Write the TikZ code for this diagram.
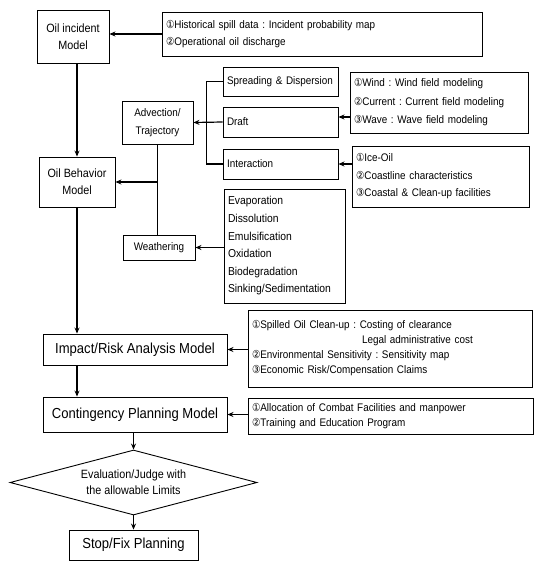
\documentclass[tikz,border=0pt]{standalone}
\usepackage{fontspec}
\setmainfont{Liberation Sans}[FakeStretch=0.9]
\newfontfamily\symf{DejaVu Sans}[FakeStretch=0.85]
\usetikzlibrary{shapes.geometric,arrows.meta,calc}
\newcommand\nA{{\symf ①}}
\newcommand\nB{{\symf ②}}
\newcommand\nC{{\symf ③}}
\frenchspacing
\begin{document}
\begin{tikzpicture}[x=1pt,y=-1pt,
  box/.style={draw,line width=0.9pt,inner sep=0pt,align=center},
  lbox/.style={draw,line width=0.9pt,inner xsep=4pt,inner ysep=0pt,align=left},
  arr/.style={line width=1.2pt,-{Stealth[length=6pt,width=5pt]}},
  ln/.style={line width=1.2pt},
  fm/.style={font=\fontsize{12}{17}\selectfont},
  fs/.style={font=\fontsize{11}{17.6}\selectfont},
  fb/.style={font=\fontsize{14.5}{17}\selectfont}]
\useasboundingbox (0,0) rectangle (536,562);
% model boxes
\node[box,fm,minimum width=72pt,minimum height=53pt] (oi) at (73,37) {Oil incident\\Model};
\node[box,fm,minimum width=76pt,minimum height=50pt] (ob) at (77,182) {Oil Behavior\\Model};
\node[box,fs,minimum width=71pt,minimum height=43pt] (adv) at (157.5,122.5) {Advection/\\Trajectory};
\node[box,fs,minimum width=72pt,minimum height=25pt] (wt) at (159,247.5) {Weathering};
\node[lbox,fs,minimum width=115pt,minimum height=29pt,text width=107pt] (sp) at (280.5,81.5) {Spreading \& Dispersion};
\node[lbox,fs,minimum width=115pt,minimum height=30pt,text width=107pt] (dr) at (280.5,122) {Draft};
\node[lbox,fs,minimum width=115pt,minimum height=30pt,text width=107pt] (it) at (280.5,164) {Interaction};
\node[lbox,font=\fontsize{11.5}{17.6}\selectfont,minimum width=121pt,minimum height=114pt,text width=113pt] (lst) at (284.5,246)
  {Evaporation\\Dissolution\\Emulsification\\Oxidation\\Biodegradation\\Sinking/Sedimentation};
% info boxes
\node[lbox,font=\fontsize{11}{17}\selectfont,minimum width=320pt,minimum height=44pt,text width=312pt] (tb) at (322,34)
  {\nA Historical spill data : Incident probability map\\\nB Operational oil discharge};
\node[lbox,font=\fontsize{11}{18.5}\selectfont,minimum width=178pt,minimum height=61pt,text width=170pt] (wind) at (439,102.5)
  {\nA Wind : Wind field modeling\\\nB Current : Current field modeling\\\nC Wave : Wave field modeling};
\node[lbox,font=\fontsize{11}{17.5}\selectfont,minimum width=177pt,minimum height=61pt,text width=169pt] (ice) at (440.5,176.5)
  {\nA Ice-Oil\\\nB Coastline characteristics\\\nC Coastal \& Clean-up facilities};
\node[lbox,font=\fontsize{11}{15}\selectfont,minimum width=284pt,minimum height=77pt,text width=276pt] (spl) at (390,348.5)
  {\nA Spilled Oil Clean-up : Costing of clearance\\\hspace*{110pt}Legal administrative cost\\\nB Environmental Sensitivity : Sensitivity map\\\nC Economic Risk/Compensation Claims};
\node[lbox,font=\fontsize{11}{15}\selectfont,minimum width=285pt,minimum height=36pt,text width=277pt] (al) at (390.5,416)
  {\nA Allocation of Combat Facilities and manpower\\\nB Training and Education Program};
% lower flow
\node[box,fb,minimum width=184pt,minimum height=31pt] (imp) at (135,349.5) {Impact/Risk Analysis Model};
\node[box,fb,minimum width=184pt,minimum height=35pt] (con) at (135,414.5) {Contingency Planning Model};
\node[diamond,aspect=3.8,draw,line width=0.9pt,inner sep=0pt,minimum width=247pt,minimum height=65pt,align=center,
  font=\fontsize{12}{16}\selectfont] (dia) at (133.5,482.5) {Evaluation/Judge with\\the allowable Limits};
\node[box,fb,minimum width=129pt,minimum height=30pt] (stop) at (133.5,545) {Stop/Fix Planning};
% connectors
\coordinate (wy) at (0,117);
\draw[arr] (tb.west) -- (tb.west -| oi.east);
\draw[arr] (oi.south -| ob.north) -- (ob.north);
\draw[ln,line width=1.8pt] (sp.west) -- ++(-16,0) |- (it.west);
\draw[arr] (dr.west) -- (adv.east);
\draw[arr] (wind.west |- wy) -- (dr.east |- wy);
\draw[arr] (ice.west |- it.east) -- (it.east);
\draw[ln] (adv.south) -- (adv.south |- wt.north);
\coordinate (jn) at (adv.south |- ob.east);
\draw[arr] (jn) -- (ob.east);
\draw[arr] (lst.west |- wt.east) -- (wt.east);
\draw[arr] (ob.south) -- (ob.south |- imp.north);
\draw[arr] (spl.west |- imp.east) -- (imp.east);
\draw[arr] (imp.south -| ob.south) -- (con.north -| ob.south);
\draw[arr] (al.west |- con.east) -- (con.east);
\draw[arr] (con.south -| dia.north) -- (dia.north);
\draw[arr] (dia.south) -- (stop.north);
\end{tikzpicture}
\end{document}
